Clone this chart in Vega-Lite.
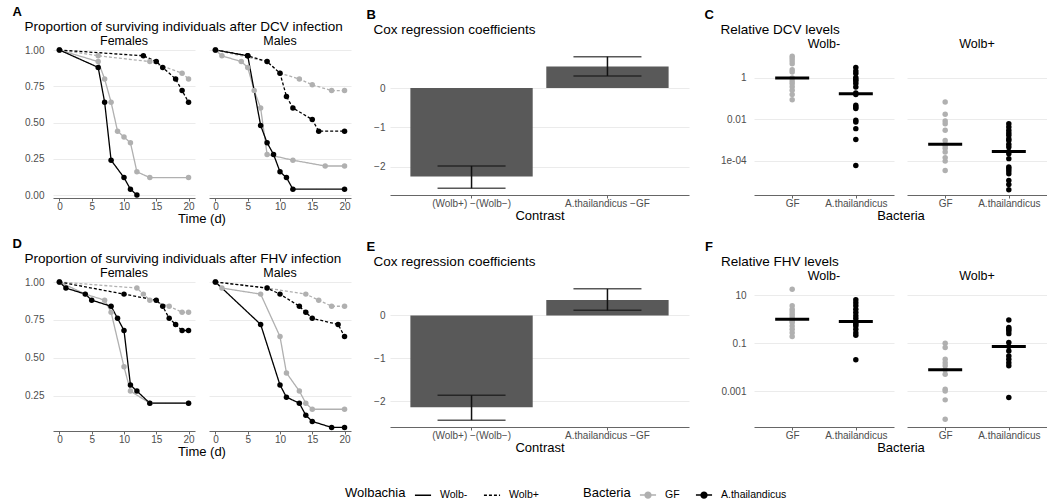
{
"$schema": "https://vega.github.io/schema/vega-lite/v6.json",
"padding": {"left": 12, "top": 6, "right": 0, "bottom": 2},
"config": {
 "font": "Liberation Sans",
 "view": {"stroke": null},
 "axis": {"labelFontSize": 10, "labelColor": "#4d4d4d", "titleFontSize": 13, "titleFontWeight": "normal", "titleColor": "#000", "titlePadding": 1, "gridColor": "#e6e6e6", "gridWidth": 0.8, "domainColor": "#666", "tickColor": "#666", "tickSize": 3, "labelPadding": 0},
 "axisX": {"grid": false, "domain": true, "ticks": true},
 "axisY": {"domain": false, "ticks": false, "grid": true},
 "title": {"anchor": "start", "frame": "bounds", "fontSize": 13.5, "fontWeight": "normal", "offset": 1, "color": "#000"},
 "header": {"labelFontSize": 12.5, "labelColor": "#000", "labelPadding": 0, "titleFontSize": 13, "titleFontWeight": "normal", "titleColor": "#000", "titlePadding": -8},
 "legend": {"direction": "horizontal", "titleOrient": "left", "titleFontSize": 13, "titleFontWeight": "normal", "titleColor": "#000", "titlePadding": 8, "labelFontSize": 10.5, "labelColor": "#000", "labelOffset": 8, "symbolSize": 260, "symbolStrokeWidth": 1.5, "padding": 0, "columnPadding": 12}
},
"datasets": {
 "survDCV": [
  {"Sex":"Females","Wolbachia":"Wolb-","Bacteria":"GF","Time":0,"Survival":1},
  {"Sex":"Females","Wolbachia":"Wolb-","Bacteria":"GF","Time":6,"Survival":0.92},
  {"Sex":"Females","Wolbachia":"Wolb-","Bacteria":"GF","Time":7,"Survival":0.8},
  {"Sex":"Females","Wolbachia":"Wolb-","Bacteria":"GF","Time":8,"Survival":0.64},
  {"Sex":"Females","Wolbachia":"Wolb-","Bacteria":"GF","Time":9,"Survival":0.44},
  {"Sex":"Females","Wolbachia":"Wolb-","Bacteria":"GF","Time":10,"Survival":0.4},
  {"Sex":"Females","Wolbachia":"Wolb-","Bacteria":"GF","Time":11,"Survival":0.36},
  {"Sex":"Females","Wolbachia":"Wolb-","Bacteria":"GF","Time":12,"Survival":0.16},
  {"Sex":"Females","Wolbachia":"Wolb-","Bacteria":"GF","Time":14,"Survival":0.12},
  {"Sex":"Females","Wolbachia":"Wolb-","Bacteria":"GF","Time":20,"Survival":0.12},
  {"Sex":"Females","Wolbachia":"Wolb-","Bacteria":"A.thailandicus","Time":0,"Survival":1},
  {"Sex":"Females","Wolbachia":"Wolb-","Bacteria":"A.thailandicus","Time":6,"Survival":0.88},
  {"Sex":"Females","Wolbachia":"Wolb-","Bacteria":"A.thailandicus","Time":7,"Survival":0.64},
  {"Sex":"Females","Wolbachia":"Wolb-","Bacteria":"A.thailandicus","Time":8,"Survival":0.24},
  {"Sex":"Females","Wolbachia":"Wolb-","Bacteria":"A.thailandicus","Time":10,"Survival":0.12},
  {"Sex":"Females","Wolbachia":"Wolb-","Bacteria":"A.thailandicus","Time":11,"Survival":0.04},
  {"Sex":"Females","Wolbachia":"Wolb-","Bacteria":"A.thailandicus","Time":12,"Survival":0},
  {"Sex":"Females","Wolbachia":"Wolb+","Bacteria":"GF","Time":0,"Survival":1},
  {"Sex":"Females","Wolbachia":"Wolb+","Bacteria":"GF","Time":6,"Survival":0.96},
  {"Sex":"Females","Wolbachia":"Wolb+","Bacteria":"GF","Time":14,"Survival":0.92},
  {"Sex":"Females","Wolbachia":"Wolb+","Bacteria":"GF","Time":19,"Survival":0.84},
  {"Sex":"Females","Wolbachia":"Wolb+","Bacteria":"GF","Time":20,"Survival":0.8},
  {"Sex":"Females","Wolbachia":"Wolb+","Bacteria":"A.thailandicus","Time":0,"Survival":1},
  {"Sex":"Females","Wolbachia":"Wolb+","Bacteria":"A.thailandicus","Time":13,"Survival":0.96},
  {"Sex":"Females","Wolbachia":"Wolb+","Bacteria":"A.thailandicus","Time":15,"Survival":0.92},
  {"Sex":"Females","Wolbachia":"Wolb+","Bacteria":"A.thailandicus","Time":16,"Survival":0.88},
  {"Sex":"Females","Wolbachia":"Wolb+","Bacteria":"A.thailandicus","Time":18,"Survival":0.8},
  {"Sex":"Females","Wolbachia":"Wolb+","Bacteria":"A.thailandicus","Time":19,"Survival":0.72},
  {"Sex":"Females","Wolbachia":"Wolb+","Bacteria":"A.thailandicus","Time":20,"Survival":0.64},
  {"Sex":"Males","Wolbachia":"Wolb-","Bacteria":"GF","Time":0,"Survival":1},
  {"Sex":"Males","Wolbachia":"Wolb-","Bacteria":"GF","Time":1,"Survival":0.96},
  {"Sex":"Males","Wolbachia":"Wolb-","Bacteria":"GF","Time":4,"Survival":0.92},
  {"Sex":"Males","Wolbachia":"Wolb-","Bacteria":"GF","Time":5,"Survival":0.88},
  {"Sex":"Males","Wolbachia":"Wolb-","Bacteria":"GF","Time":6,"Survival":0.72},
  {"Sex":"Males","Wolbachia":"Wolb-","Bacteria":"GF","Time":7,"Survival":0.6},
  {"Sex":"Males","Wolbachia":"Wolb-","Bacteria":"GF","Time":8,"Survival":0.28},
  {"Sex":"Males","Wolbachia":"Wolb-","Bacteria":"GF","Time":12,"Survival":0.24},
  {"Sex":"Males","Wolbachia":"Wolb-","Bacteria":"GF","Time":17,"Survival":0.2},
  {"Sex":"Males","Wolbachia":"Wolb-","Bacteria":"GF","Time":20,"Survival":0.2},
  {"Sex":"Males","Wolbachia":"Wolb-","Bacteria":"A.thailandicus","Time":0,"Survival":1},
  {"Sex":"Males","Wolbachia":"Wolb-","Bacteria":"A.thailandicus","Time":5,"Survival":0.96},
  {"Sex":"Males","Wolbachia":"Wolb-","Bacteria":"A.thailandicus","Time":7,"Survival":0.48},
  {"Sex":"Males","Wolbachia":"Wolb-","Bacteria":"A.thailandicus","Time":8,"Survival":0.36},
  {"Sex":"Males","Wolbachia":"Wolb-","Bacteria":"A.thailandicus","Time":9,"Survival":0.28},
  {"Sex":"Males","Wolbachia":"Wolb-","Bacteria":"A.thailandicus","Time":10,"Survival":0.16},
  {"Sex":"Males","Wolbachia":"Wolb-","Bacteria":"A.thailandicus","Time":11,"Survival":0.12},
  {"Sex":"Males","Wolbachia":"Wolb-","Bacteria":"A.thailandicus","Time":12,"Survival":0.04},
  {"Sex":"Males","Wolbachia":"Wolb-","Bacteria":"A.thailandicus","Time":20,"Survival":0.04},
  {"Sex":"Males","Wolbachia":"Wolb+","Bacteria":"GF","Time":0,"Survival":1},
  {"Sex":"Males","Wolbachia":"Wolb+","Bacteria":"GF","Time":8,"Survival":0.92},
  {"Sex":"Males","Wolbachia":"Wolb+","Bacteria":"GF","Time":10,"Survival":0.84},
  {"Sex":"Males","Wolbachia":"Wolb+","Bacteria":"GF","Time":13,"Survival":0.8},
  {"Sex":"Males","Wolbachia":"Wolb+","Bacteria":"GF","Time":15,"Survival":0.76},
  {"Sex":"Males","Wolbachia":"Wolb+","Bacteria":"GF","Time":18,"Survival":0.72},
  {"Sex":"Males","Wolbachia":"Wolb+","Bacteria":"GF","Time":20,"Survival":0.72},
  {"Sex":"Males","Wolbachia":"Wolb+","Bacteria":"A.thailandicus","Time":0,"Survival":1},
  {"Sex":"Males","Wolbachia":"Wolb+","Bacteria":"A.thailandicus","Time":5,"Survival":0.96},
  {"Sex":"Males","Wolbachia":"Wolb+","Bacteria":"A.thailandicus","Time":8,"Survival":0.92},
  {"Sex":"Males","Wolbachia":"Wolb+","Bacteria":"A.thailandicus","Time":10,"Survival":0.84},
  {"Sex":"Males","Wolbachia":"Wolb+","Bacteria":"A.thailandicus","Time":11,"Survival":0.68},
  {"Sex":"Males","Wolbachia":"Wolb+","Bacteria":"A.thailandicus","Time":12,"Survival":0.6},
  {"Sex":"Males","Wolbachia":"Wolb+","Bacteria":"A.thailandicus","Time":15,"Survival":0.52},
  {"Sex":"Males","Wolbachia":"Wolb+","Bacteria":"A.thailandicus","Time":16,"Survival":0.44},
  {"Sex":"Males","Wolbachia":"Wolb+","Bacteria":"A.thailandicus","Time":20,"Survival":0.44}
 ],
 "survFHV": [
  {"Sex":"Females","Wolbachia":"Wolb-","Bacteria":"GF","Time":0,"Survival":1},
  {"Sex":"Females","Wolbachia":"Wolb-","Bacteria":"GF","Time":4,"Survival":0.92},
  {"Sex":"Females","Wolbachia":"Wolb-","Bacteria":"GF","Time":7,"Survival":0.88},
  {"Sex":"Females","Wolbachia":"Wolb-","Bacteria":"GF","Time":8,"Survival":0.8},
  {"Sex":"Females","Wolbachia":"Wolb-","Bacteria":"GF","Time":10,"Survival":0.44},
  {"Sex":"Females","Wolbachia":"Wolb-","Bacteria":"GF","Time":11,"Survival":0.28},
  {"Sex":"Females","Wolbachia":"Wolb-","Bacteria":"GF","Time":14,"Survival":0.2},
  {"Sex":"Females","Wolbachia":"Wolb-","Bacteria":"GF","Time":20,"Survival":0.2},
  {"Sex":"Females","Wolbachia":"Wolb-","Bacteria":"A.thailandicus","Time":0,"Survival":1},
  {"Sex":"Females","Wolbachia":"Wolb-","Bacteria":"A.thailandicus","Time":1,"Survival":0.96},
  {"Sex":"Females","Wolbachia":"Wolb-","Bacteria":"A.thailandicus","Time":4,"Survival":0.92},
  {"Sex":"Females","Wolbachia":"Wolb-","Bacteria":"A.thailandicus","Time":5,"Survival":0.88},
  {"Sex":"Females","Wolbachia":"Wolb-","Bacteria":"A.thailandicus","Time":8,"Survival":0.84},
  {"Sex":"Females","Wolbachia":"Wolb-","Bacteria":"A.thailandicus","Time":9,"Survival":0.76},
  {"Sex":"Females","Wolbachia":"Wolb-","Bacteria":"A.thailandicus","Time":10,"Survival":0.68},
  {"Sex":"Females","Wolbachia":"Wolb-","Bacteria":"A.thailandicus","Time":11,"Survival":0.32},
  {"Sex":"Females","Wolbachia":"Wolb-","Bacteria":"A.thailandicus","Time":12,"Survival":0.28},
  {"Sex":"Females","Wolbachia":"Wolb-","Bacteria":"A.thailandicus","Time":14,"Survival":0.2},
  {"Sex":"Females","Wolbachia":"Wolb-","Bacteria":"A.thailandicus","Time":20,"Survival":0.2},
  {"Sex":"Females","Wolbachia":"Wolb+","Bacteria":"GF","Time":0,"Survival":1},
  {"Sex":"Females","Wolbachia":"Wolb+","Bacteria":"GF","Time":12,"Survival":0.96},
  {"Sex":"Females","Wolbachia":"Wolb+","Bacteria":"GF","Time":13,"Survival":0.92},
  {"Sex":"Females","Wolbachia":"Wolb+","Bacteria":"GF","Time":14,"Survival":0.88},
  {"Sex":"Females","Wolbachia":"Wolb+","Bacteria":"GF","Time":17,"Survival":0.84},
  {"Sex":"Females","Wolbachia":"Wolb+","Bacteria":"GF","Time":19,"Survival":0.8},
  {"Sex":"Females","Wolbachia":"Wolb+","Bacteria":"GF","Time":20,"Survival":0.8},
  {"Sex":"Females","Wolbachia":"Wolb+","Bacteria":"A.thailandicus","Time":0,"Survival":1},
  {"Sex":"Females","Wolbachia":"Wolb+","Bacteria":"A.thailandicus","Time":10,"Survival":0.92},
  {"Sex":"Females","Wolbachia":"Wolb+","Bacteria":"A.thailandicus","Time":15,"Survival":0.88},
  {"Sex":"Females","Wolbachia":"Wolb+","Bacteria":"A.thailandicus","Time":16,"Survival":0.84},
  {"Sex":"Females","Wolbachia":"Wolb+","Bacteria":"A.thailandicus","Time":17,"Survival":0.76},
  {"Sex":"Females","Wolbachia":"Wolb+","Bacteria":"A.thailandicus","Time":18,"Survival":0.72},
  {"Sex":"Females","Wolbachia":"Wolb+","Bacteria":"A.thailandicus","Time":19,"Survival":0.68},
  {"Sex":"Females","Wolbachia":"Wolb+","Bacteria":"A.thailandicus","Time":20,"Survival":0.68},
  {"Sex":"Males","Wolbachia":"Wolb-","Bacteria":"GF","Time":0,"Survival":1},
  {"Sex":"Males","Wolbachia":"Wolb-","Bacteria":"GF","Time":1,"Survival":0.96},
  {"Sex":"Males","Wolbachia":"Wolb-","Bacteria":"GF","Time":7,"Survival":0.92},
  {"Sex":"Males","Wolbachia":"Wolb-","Bacteria":"GF","Time":10,"Survival":0.64},
  {"Sex":"Males","Wolbachia":"Wolb-","Bacteria":"GF","Time":11,"Survival":0.4},
  {"Sex":"Males","Wolbachia":"Wolb-","Bacteria":"GF","Time":13,"Survival":0.28},
  {"Sex":"Males","Wolbachia":"Wolb-","Bacteria":"GF","Time":14,"Survival":0.2},
  {"Sex":"Males","Wolbachia":"Wolb-","Bacteria":"GF","Time":15,"Survival":0.16},
  {"Sex":"Males","Wolbachia":"Wolb-","Bacteria":"GF","Time":20,"Survival":0.16},
  {"Sex":"Males","Wolbachia":"Wolb-","Bacteria":"A.thailandicus","Time":0,"Survival":1},
  {"Sex":"Males","Wolbachia":"Wolb-","Bacteria":"A.thailandicus","Time":7,"Survival":0.72},
  {"Sex":"Males","Wolbachia":"Wolb-","Bacteria":"A.thailandicus","Time":10,"Survival":0.32},
  {"Sex":"Males","Wolbachia":"Wolb-","Bacteria":"A.thailandicus","Time":11,"Survival":0.24},
  {"Sex":"Males","Wolbachia":"Wolb-","Bacteria":"A.thailandicus","Time":13,"Survival":0.2},
  {"Sex":"Males","Wolbachia":"Wolb-","Bacteria":"A.thailandicus","Time":14,"Survival":0.12},
  {"Sex":"Males","Wolbachia":"Wolb-","Bacteria":"A.thailandicus","Time":15,"Survival":0.08},
  {"Sex":"Males","Wolbachia":"Wolb-","Bacteria":"A.thailandicus","Time":18,"Survival":0.04},
  {"Sex":"Males","Wolbachia":"Wolb-","Bacteria":"A.thailandicus","Time":20,"Survival":0.04},
  {"Sex":"Males","Wolbachia":"Wolb+","Bacteria":"GF","Time":0,"Survival":1},
  {"Sex":"Males","Wolbachia":"Wolb+","Bacteria":"GF","Time":8,"Survival":0.96},
  {"Sex":"Males","Wolbachia":"Wolb+","Bacteria":"GF","Time":14,"Survival":0.92},
  {"Sex":"Males","Wolbachia":"Wolb+","Bacteria":"GF","Time":16,"Survival":0.88},
  {"Sex":"Males","Wolbachia":"Wolb+","Bacteria":"GF","Time":18,"Survival":0.84},
  {"Sex":"Males","Wolbachia":"Wolb+","Bacteria":"GF","Time":20,"Survival":0.84},
  {"Sex":"Males","Wolbachia":"Wolb+","Bacteria":"A.thailandicus","Time":0,"Survival":1},
  {"Sex":"Males","Wolbachia":"Wolb+","Bacteria":"A.thailandicus","Time":8,"Survival":0.96},
  {"Sex":"Males","Wolbachia":"Wolb+","Bacteria":"A.thailandicus","Time":10,"Survival":0.92},
  {"Sex":"Males","Wolbachia":"Wolb+","Bacteria":"A.thailandicus","Time":13,"Survival":0.84},
  {"Sex":"Males","Wolbachia":"Wolb+","Bacteria":"A.thailandicus","Time":14,"Survival":0.8},
  {"Sex":"Males","Wolbachia":"Wolb+","Bacteria":"A.thailandicus","Time":15,"Survival":0.76},
  {"Sex":"Males","Wolbachia":"Wolb+","Bacteria":"A.thailandicus","Time":19,"Survival":0.72},
  {"Sex":"Males","Wolbachia":"Wolb+","Bacteria":"A.thailandicus","Time":20,"Survival":0.64}
 ],
 "coxDCV": [
  {"Contrast":"(Wolb+) −(Wolb−)","Coefficient":-2.25,"Lower":-2.55,"Upper":-1.98},
  {"Contrast":"A.thailandicus −GF","Coefficient":0.55,"Lower":0.31,"Upper":0.8}
 ],
 "coxFHV": [
  {"Contrast":"(Wolb+) −(Wolb−)","Coefficient":-2.14,"Lower":-2.44,"Upper":-1.86},
  {"Contrast":"A.thailandicus −GF","Coefficient":0.36,"Lower":0.12,"Upper":0.62}
 ],
 "dcv": [
  {"Wolbachia":"Wolb-","Bacteria":"GF","Level":11.2},{"Wolbachia":"Wolb-","Bacteria":"GF","Level":8.7},{"Wolbachia":"Wolb-","Bacteria":"GF","Level":6.6},{"Wolbachia":"Wolb-","Bacteria":"GF","Level":4.9},{"Wolbachia":"Wolb-","Bacteria":"GF","Level":2.51},{"Wolbachia":"Wolb-","Bacteria":"GF","Level":1.95},{"Wolbachia":"Wolb-","Bacteria":"GF","Level":1},{"Wolbachia":"Wolb-","Bacteria":"GF","Level":0.708},{"Wolbachia":"Wolb-","Bacteria":"GF","Level":0.537},{"Wolbachia":"Wolb-","Bacteria":"GF","Level":0.38},{"Wolbachia":"Wolb-","Bacteria":"GF","Level":0.251},{"Wolbachia":"Wolb-","Bacteria":"GF","Level":0.158},{"Wolbachia":"Wolb-","Bacteria":"GF","Level":0.0891},
  {"Wolbachia":"Wolb-","Bacteria":"A.thailandicus","Level":3.16},{"Wolbachia":"Wolb-","Bacteria":"A.thailandicus","Level":2.19},{"Wolbachia":"Wolb-","Bacteria":"A.thailandicus","Level":1.62},{"Wolbachia":"Wolb-","Bacteria":"A.thailandicus","Level":1.05},{"Wolbachia":"Wolb-","Bacteria":"A.thailandicus","Level":0.832},{"Wolbachia":"Wolb-","Bacteria":"A.thailandicus","Level":0.708},{"Wolbachia":"Wolb-","Bacteria":"A.thailandicus","Level":0.537},{"Wolbachia":"Wolb-","Bacteria":"A.thailandicus","Level":0.363},{"Wolbachia":"Wolb-","Bacteria":"A.thailandicus","Level":0.186},{"Wolbachia":"Wolb-","Bacteria":"A.thailandicus","Level":0.158},{"Wolbachia":"Wolb-","Bacteria":"A.thailandicus","Level":0.0479},{"Wolbachia":"Wolb-","Bacteria":"A.thailandicus","Level":0.0398},{"Wolbachia":"Wolb-","Bacteria":"A.thailandicus","Level":0.0331},{"Wolbachia":"Wolb-","Bacteria":"A.thailandicus","Level":0.00891},{"Wolbachia":"Wolb-","Bacteria":"A.thailandicus","Level":0.00741},{"Wolbachia":"Wolb-","Bacteria":"A.thailandicus","Level":0.00355},{"Wolbachia":"Wolb-","Bacteria":"A.thailandicus","Level":0.00105},{"Wolbachia":"Wolb-","Bacteria":"A.thailandicus","Level":0.0000589},
  {"Wolbachia":"Wolb+","Bacteria":"GF","Level":0.0692},{"Wolbachia":"Wolb+","Bacteria":"GF","Level":0.0174},{"Wolbachia":"Wolb+","Bacteria":"GF","Level":0.00832},{"Wolbachia":"Wolb+","Bacteria":"GF","Level":0.00617},{"Wolbachia":"Wolb+","Bacteria":"GF","Level":0.00295},{"Wolbachia":"Wolb+","Bacteria":"GF","Level":0.000955},{"Wolbachia":"Wolb+","Bacteria":"GF","Level":0.000617},{"Wolbachia":"Wolb+","Bacteria":"GF","Level":0.000525},{"Wolbachia":"Wolb+","Bacteria":"GF","Level":0.000398},{"Wolbachia":"Wolb+","Bacteria":"GF","Level":0.000263},{"Wolbachia":"Wolb+","Bacteria":"GF","Level":0.000141},{"Wolbachia":"Wolb+","Bacteria":"GF","Level":0.0000955},{"Wolbachia":"Wolb+","Bacteria":"GF","Level":0.0000339},
  {"Wolbachia":"Wolb+","Bacteria":"A.thailandicus","Level":0.00617},{"Wolbachia":"Wolb+","Bacteria":"A.thailandicus","Level":0.00427},{"Wolbachia":"Wolb+","Bacteria":"A.thailandicus","Level":0.00295},{"Wolbachia":"Wolb+","Bacteria":"A.thailandicus","Level":0.00219},{"Wolbachia":"Wolb+","Bacteria":"A.thailandicus","Level":0.0017},{"Wolbachia":"Wolb+","Bacteria":"A.thailandicus","Level":0.00115},{"Wolbachia":"Wolb+","Bacteria":"A.thailandicus","Level":0.000955},{"Wolbachia":"Wolb+","Bacteria":"A.thailandicus","Level":0.000631},{"Wolbachia":"Wolb+","Bacteria":"A.thailandicus","Level":0.000457},{"Wolbachia":"Wolb+","Bacteria":"A.thailandicus","Level":0.000282},{"Wolbachia":"Wolb+","Bacteria":"A.thailandicus","Level":0.000219},{"Wolbachia":"Wolb+","Bacteria":"A.thailandicus","Level":0.000126},{"Wolbachia":"Wolb+","Bacteria":"A.thailandicus","Level":0.000049},{"Wolbachia":"Wolb+","Bacteria":"A.thailandicus","Level":0.0000407},{"Wolbachia":"Wolb+","Bacteria":"A.thailandicus","Level":0.0000316},{"Wolbachia":"Wolb+","Bacteria":"A.thailandicus","Level":0.0000234},{"Wolbachia":"Wolb+","Bacteria":"A.thailandicus","Level":0.0000112},{"Wolbachia":"Wolb+","Bacteria":"A.thailandicus","Level":0.00000708},{"Wolbachia":"Wolb+","Bacteria":"A.thailandicus","Level":0.00000398}
 ],
 "fhv": [
  {"Wolbachia":"Wolb-","Bacteria":"GF","Level":17.8},{"Wolbachia":"Wolb-","Bacteria":"GF","Level":3.63},{"Wolbachia":"Wolb-","Bacteria":"GF","Level":2.63},{"Wolbachia":"Wolb-","Bacteria":"GF","Level":2.04},{"Wolbachia":"Wolb-","Bacteria":"GF","Level":1.62},{"Wolbachia":"Wolb-","Bacteria":"GF","Level":1.26},{"Wolbachia":"Wolb-","Bacteria":"GF","Level":1},{"Wolbachia":"Wolb-","Bacteria":"GF","Level":0.851},{"Wolbachia":"Wolb-","Bacteria":"GF","Level":0.724},{"Wolbachia":"Wolb-","Bacteria":"GF","Level":0.525},{"Wolbachia":"Wolb-","Bacteria":"GF","Level":0.38},{"Wolbachia":"Wolb-","Bacteria":"GF","Level":0.275},{"Wolbachia":"Wolb-","Bacteria":"GF","Level":0.191},
  {"Wolbachia":"Wolb-","Bacteria":"A.thailandicus","Level":6.46},{"Wolbachia":"Wolb-","Bacteria":"A.thailandicus","Level":4.9},{"Wolbachia":"Wolb-","Bacteria":"A.thailandicus","Level":3.63},{"Wolbachia":"Wolb-","Bacteria":"A.thailandicus","Level":2.63},{"Wolbachia":"Wolb-","Bacteria":"A.thailandicus","Level":1.91},{"Wolbachia":"Wolb-","Bacteria":"A.thailandicus","Level":1.38},{"Wolbachia":"Wolb-","Bacteria":"A.thailandicus","Level":1.07},{"Wolbachia":"Wolb-","Bacteria":"A.thailandicus","Level":0.794},{"Wolbachia":"Wolb-","Bacteria":"A.thailandicus","Level":0.724},{"Wolbachia":"Wolb-","Bacteria":"A.thailandicus","Level":0.617},{"Wolbachia":"Wolb-","Bacteria":"A.thailandicus","Level":0.525},{"Wolbachia":"Wolb-","Bacteria":"A.thailandicus","Level":0.38},{"Wolbachia":"Wolb-","Bacteria":"A.thailandicus","Level":0.275},{"Wolbachia":"Wolb-","Bacteria":"A.thailandicus","Level":0.214},{"Wolbachia":"Wolb-","Bacteria":"A.thailandicus","Level":0.0204},
  {"Wolbachia":"Wolb+","Bacteria":"GF","Level":0.1},{"Wolbachia":"Wolb+","Bacteria":"GF","Level":0.0661},{"Wolbachia":"Wolb+","Bacteria":"GF","Level":0.0214},{"Wolbachia":"Wolb+","Bacteria":"GF","Level":0.0155},{"Wolbachia":"Wolb+","Bacteria":"GF","Level":0.0115},{"Wolbachia":"Wolb+","Bacteria":"GF","Level":0.00794},{"Wolbachia":"Wolb+","Bacteria":"GF","Level":0.00513},{"Wolbachia":"Wolb+","Bacteria":"GF","Level":0.0012},{"Wolbachia":"Wolb+","Bacteria":"GF","Level":0.00102},{"Wolbachia":"Wolb+","Bacteria":"GF","Level":0.000437},{"Wolbachia":"Wolb+","Bacteria":"GF","Level":0.0000676},
  {"Wolbachia":"Wolb+","Bacteria":"A.thailandicus","Level":0.933},{"Wolbachia":"Wolb+","Bacteria":"A.thailandicus","Level":0.447},{"Wolbachia":"Wolb+","Bacteria":"A.thailandicus","Level":0.38},{"Wolbachia":"Wolb+","Bacteria":"A.thailandicus","Level":0.324},{"Wolbachia":"Wolb+","Bacteria":"A.thailandicus","Level":0.251},{"Wolbachia":"Wolb+","Bacteria":"A.thailandicus","Level":0.107},{"Wolbachia":"Wolb+","Bacteria":"A.thailandicus","Level":0.0724},{"Wolbachia":"Wolb+","Bacteria":"A.thailandicus","Level":0.0479},{"Wolbachia":"Wolb+","Bacteria":"A.thailandicus","Level":0.0295},{"Wolbachia":"Wolb+","Bacteria":"A.thailandicus","Level":0.0214},{"Wolbachia":"Wolb+","Bacteria":"A.thailandicus","Level":0.0155},{"Wolbachia":"Wolb+","Bacteria":"A.thailandicus","Level":0.0115},{"Wolbachia":"Wolb+","Bacteria":"A.thailandicus","Level":0.00055}
 ]
},
"spacing": 12,
"vconcat": [
 {"spacing": 15, "hconcat": [
  {"title": {"text": "A", "fontWeight": "bold", "fontSize": 13, "dx": -12}, "vconcat": [
   {"title": {"text": "Proportion of surviving individuals after DCV infection"},
    "data": {"name": "survDCV"},
    "facet": {"column": {"field": "Sex", "type": "nominal", "title": "Time (d)", "header": {"titleOrient": "bottom", "labelOrient": "top"}}},
    "spacing": 14,
    "spec": {"width": 142, "height": 145,
     "encoding": {
      "x": {"field": "Time", "type": "quantitative", "scale": {"domain": [-1, 21], "nice": false, "zero": false}, "axis": {"values": [0, 5, 10, 15, 20], "title": null}},
      "y": {"field": "Survival", "type": "quantitative", "scale": {"domain": [0, 1], "nice": false}, "axis": {"values": [0, 0.25, 0.5, 0.75, 1], "format": ".2f", "title": null, "labelPadding": 9}},
      "color": {"field": "Bacteria", "type": "nominal", "scale": {"domain": ["GF", "A.thailandicus"], "range": ["#b0b0b0", "#000000"]}, "legend": {"title": "Bacteria", "orient": "none", "legendX": 530, "legendY": 436, "symbolType": "M-1,0L1,0M-0.36,0A0.36,0.36,0,1,0,0.36,0A0.36,0.36,0,1,0,-0.36,0Z", "encoding": {"symbols": {"update": {"stroke": {"scale": "color", "field": "value"}, "strokeWidth": {"value": 1.5}}}}}}
     },
     "layer": [
      {"mark": {"type": "line", "strokeWidth": 1.3}, "encoding": {"strokeDash": {"field": "Wolbachia", "type": "nominal", "scale": {"domain": ["Wolb-", "Wolb+"], "range": [[1, 0], [3, 2]]}, "legend": {"title": "Wolbachia", "orient": "none", "legendX": 292, "legendY": 436, "symbolStrokeColor": "#000"}}}},
      {"mark": {"type": "point", "filled": true, "size": 30, "opacity": 1}, "encoding": {"detail": {"field": "Wolbachia"}}}
     ]}
   }]},
  {"title": {"text": "B", "fontWeight": "bold", "fontSize": 13, "dx": -7}, "vconcat": [
   {"title": {"text": "Cox regression coefficients", "offset": 14},
    "data": {"name": "coxDCV"},
    "width": 299, "height": 145,
    "encoding": {"x": {"field": "Contrast", "type": "nominal", "sort": null, "scale": {"paddingInner": 0.1, "paddingOuter": 0.15}, "axis": {"labelAngle": 0, "title": "Contrast"}}},
    "layer": [
     {"mark": {"type": "bar", "color": "#595959"}, "encoding": {"y": {"field": "Coefficient", "type": "quantitative", "scale": {"domain": [-2.72, 0.97], "nice": false}, "axis": {"values": [-2, -1, 0], "title": null, "labelPadding": 5}}}},
     {"mark": {"type": "rule", "color": "#111", "strokeWidth": 1.5}, "encoding": {"y": {"field": "Lower", "type": "quantitative"}, "y2": {"field": "Upper"}}},
     {"mark": {"type": "tick", "color": "#111", "size": 68, "thickness": 1.5}, "encoding": {"y": {"field": "Lower", "type": "quantitative"}}},
     {"mark": {"type": "tick", "color": "#111", "size": 68, "thickness": 1.5}, "encoding": {"y": {"field": "Upper", "type": "quantitative"}}}
    ]}
  ]},
  {"title": {"text": "C", "fontWeight": "bold", "fontSize": 13, "dx": -16}, "vconcat": [
   {"title": {"text": "Relative DCV levels"},
    "data": {"name": "dcv"},
    "facet": {"column": {"field": "Wolbachia", "type": "nominal", "sort": ["Wolb-", "Wolb+"], "title": "Bacteria", "header": {"titleOrient": "bottom", "labelOrient": "top"}}},
    "spacing": 13,
    "spec": {"width": 140, "height": 145,
     "encoding": {"x": {"field": "Bacteria", "type": "nominal", "sort": ["GF", "A.thailandicus"], "scale": {"type": "point", "padding": 0.6}, "axis": {"labelAngle": 0, "title": null}}},
     "layer": [
      {"mark": {"type": "point", "filled": true, "size": 30, "opacity": 1}, "encoding": {
        "y": {"field": "Level", "type": "quantitative", "scale": {"type": "log", "domain": [0.0000022, 22.4], "nice": false}, "axis": {"values": [0.0001, 0.01, 1], "labelExpr": "datum.value >= 0.5 ? '1' : datum.value >= 0.005 ? '0.01' : '1e-04'", "title": null, "labelPadding": 8}},
        "color": {"field": "Bacteria", "type": "nominal", "scale": {"domain": ["GF", "A.thailandicus"], "range": ["#b0b0b0", "#000000"]}, "legend": {"title": "Bacteria", "orient": "none", "legendX": 530, "legendY": 436, "symbolType": "M-1,0L1,0M-0.36,0A0.36,0.36,0,1,0,0.36,0A0.36,0.36,0,1,0,-0.36,0Z", "encoding": {"symbols": {"update": {"stroke": {"scale": "color", "field": "value"}, "strokeWidth": {"value": 1.5}}}}}}}},
      {"mark": {"type": "tick", "color": "#000", "size": 34, "thickness": 3}, "encoding": {"y": {"field": "Level", "aggregate": "median", "type": "quantitative"}}}
     ]}
   }]}
 ]},
 {"spacing": 15, "hconcat": [
  {"title": {"text": "D", "fontWeight": "bold", "fontSize": 13, "dx": -12}, "vconcat": [
   {"title": {"text": "Proportion of surviving individuals after FHV infection"},
    "data": {"name": "survFHV"},
    "facet": {"column": {"field": "Sex", "type": "nominal", "title": "Time (d)", "header": {"titleOrient": "bottom", "labelOrient": "top"}}},
    "spacing": 14,
    "spec": {"width": 142, "height": 145,
     "encoding": {
      "x": {"field": "Time", "type": "quantitative", "scale": {"domain": [-1, 21], "nice": false, "zero": false}, "axis": {"values": [0, 5, 10, 15, 20], "title": null}},
      "y": {"field": "Survival", "type": "quantitative", "scale": {"domain": [0.043, 1], "nice": false, "zero": false}, "axis": {"values": [0.25, 0.5, 0.75, 1], "format": ".2f", "title": null, "labelPadding": 9}},
      "color": {"field": "Bacteria", "type": "nominal", "scale": {"domain": ["GF", "A.thailandicus"], "range": ["#b0b0b0", "#000000"]}, "legend": {"title": "Bacteria", "orient": "none", "legendX": 530, "legendY": 436, "symbolType": "M-1,0L1,0M-0.36,0A0.36,0.36,0,1,0,0.36,0A0.36,0.36,0,1,0,-0.36,0Z", "encoding": {"symbols": {"update": {"stroke": {"scale": "color", "field": "value"}, "strokeWidth": {"value": 1.5}}}}}}
     },
     "layer": [
      {"mark": {"type": "line", "strokeWidth": 1.3}, "encoding": {"strokeDash": {"field": "Wolbachia", "type": "nominal", "scale": {"domain": ["Wolb-", "Wolb+"], "range": [[1, 0], [3, 2]]}, "legend": {"title": "Wolbachia", "orient": "none", "legendX": 292, "legendY": 436, "symbolStrokeColor": "#000"}}}},
      {"mark": {"type": "point", "filled": true, "size": 30, "opacity": 1}, "encoding": {"detail": {"field": "Wolbachia"}}}
     ]}
   }]},
  {"title": {"text": "E", "fontWeight": "bold", "fontSize": 13, "dx": -7}, "vconcat": [
   {"title": {"text": "Cox regression coefficients", "offset": 14},
    "data": {"name": "coxFHV"},
    "width": 299, "height": 145,
    "encoding": {"x": {"field": "Contrast", "type": "nominal", "sort": null, "scale": {"paddingInner": 0.1, "paddingOuter": 0.15}, "axis": {"labelAngle": 0, "title": "Contrast"}}},
    "layer": [
     {"mark": {"type": "bar", "color": "#595959"}, "encoding": {"y": {"field": "Coefficient", "type": "quantitative", "scale": {"domain": [-2.6, 0.78], "nice": false}, "axis": {"values": [-2, -1, 0], "title": null, "labelPadding": 5}}}},
     {"mark": {"type": "rule", "color": "#111", "strokeWidth": 1.5}, "encoding": {"y": {"field": "Lower", "type": "quantitative"}, "y2": {"field": "Upper"}}},
     {"mark": {"type": "tick", "color": "#111", "size": 68, "thickness": 1.5}, "encoding": {"y": {"field": "Lower", "type": "quantitative"}}},
     {"mark": {"type": "tick", "color": "#111", "size": 68, "thickness": 1.5}, "encoding": {"y": {"field": "Upper", "type": "quantitative"}}}
    ]}
  ]},
  {"title": {"text": "F", "fontWeight": "bold", "fontSize": 13, "dx": -16}, "vconcat": [
   {"title": {"text": "Relative FHV levels"},
    "data": {"name": "fhv"},
    "facet": {"column": {"field": "Wolbachia", "type": "nominal", "sort": ["Wolb-", "Wolb+"], "title": "Bacteria", "header": {"titleOrient": "bottom", "labelOrient": "top"}}},
    "spacing": 13,
    "spec": {"width": 140, "height": 145,
     "encoding": {"x": {"field": "Bacteria", "type": "nominal", "sort": ["GF", "A.thailandicus"], "scale": {"type": "point", "padding": 0.6}, "axis": {"labelAngle": 0, "title": null}}},
     "layer": [
      {"mark": {"type": "point", "filled": true, "size": 30, "opacity": 1}, "encoding": {
        "y": {"field": "Level", "type": "quantitative", "scale": {"type": "log", "domain": [0.0000324, 35.5], "nice": false}, "axis": {"values": [0.001, 0.1, 10], "labelExpr": "datum.value >= 5 ? '10' : datum.value >= 0.05 ? '0.1' : '0.001'", "title": null, "labelPadding": 8}},
        "color": {"field": "Bacteria", "type": "nominal", "scale": {"domain": ["GF", "A.thailandicus"], "range": ["#b0b0b0", "#000000"]}, "legend": {"title": "Bacteria", "orient": "none", "legendX": 530, "legendY": 436, "symbolType": "M-1,0L1,0M-0.36,0A0.36,0.36,0,1,0,0.36,0A0.36,0.36,0,1,0,-0.36,0Z", "encoding": {"symbols": {"update": {"stroke": {"scale": "color", "field": "value"}, "strokeWidth": {"value": 1.5}}}}}}}},
      {"mark": {"type": "tick", "color": "#000", "size": 34, "thickness": 3}, "encoding": {"y": {"field": "Level", "aggregate": "median", "type": "quantitative"}}}
     ]}
   }]}
 ]}
]
}
